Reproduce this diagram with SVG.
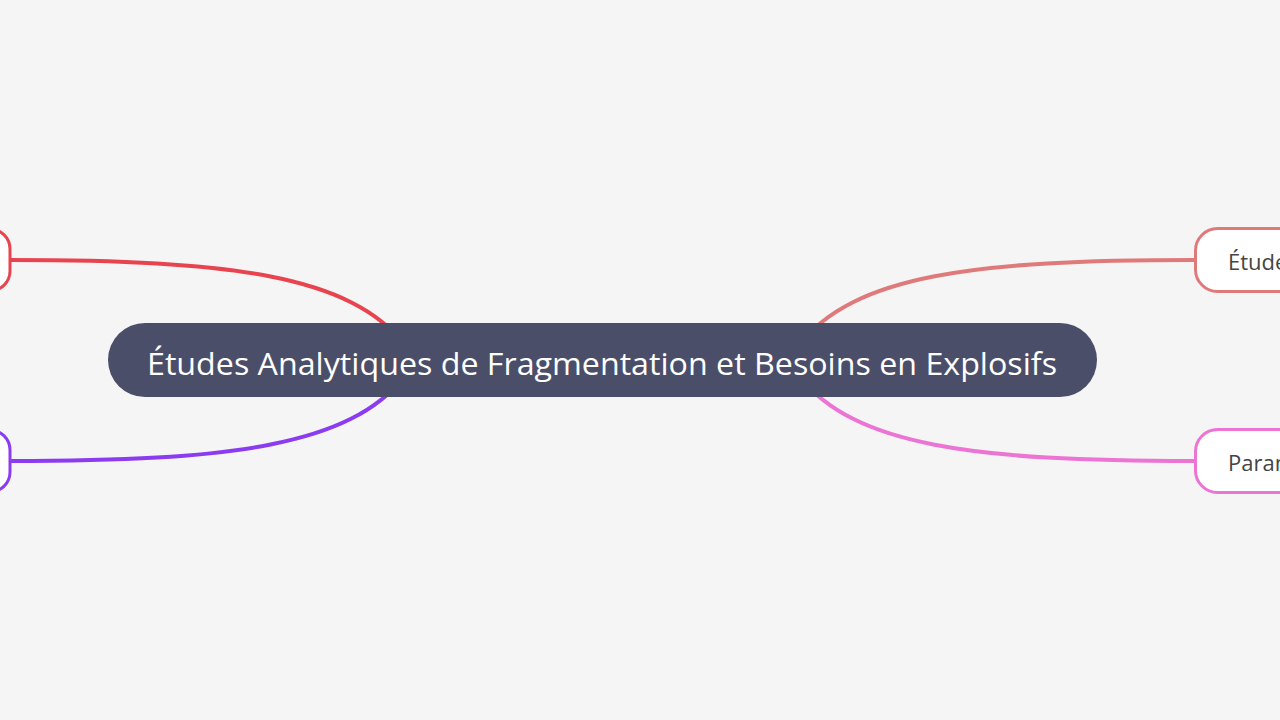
<svg xmlns="http://www.w3.org/2000/svg" width="1280" height="720" viewBox="0 0 1280 720">
  <style>
    .conn { fill: none; stroke-width: 4; stroke-linecap: round; }
    .leaf { fill: #ffffff; stroke-width: 3; }
    .leaftext { font-family: "Open Sans", "Noto Sans", "Liberation Sans", sans-serif; font-size: 22px; fill: #444444; }
    .roottext { font-family: "Open Sans", "Noto Sans", "Liberation Sans", sans-serif; font-size: 31px; fill: #ffffff; }
  </style>
  <rect x="0" y="0" width="1280" height="720" fill="#f5f5f5"/>
  <g id="connectors">
    <path class="conn" stroke="#e8444f" d="M 10 260 C 230 260, 350 275, 405 345"/>
    <path class="conn" stroke="#8b3cf0" d="M 10 461 C 230 461, 350 446, 405 376"/>
    <path class="conn" stroke="#e07a7a" d="M 1194 260 C 974 260, 854 275, 799 345"/>
    <path class="conn" stroke="#ec74d4" d="M 1194 461 C 974 461, 854 446, 799 376"/>
  </g>
  <g id="root">
    <rect x="108" y="323" width="989" height="74" rx="37" ry="37" fill="#4b4e69"/>
    <text class="roottext" x="602" y="375" text-anchor="middle" textLength="910" lengthAdjust="spacingAndGlyphs">Études Analytiques de Fragmentation et Besoins en Explosifs</text>
  </g>
  <g id="node-left-top">
    <rect class="leaf" stroke="#e8444f" x="-200" y="229" width="210" height="62" rx="20" ry="20"/>
  </g>
  <g id="node-left-bottom">
    <rect class="leaf" stroke="#8b3cf0" x="-200" y="430" width="210" height="62" rx="20" ry="20"/>
  </g>
  <g id="node-right-top">
    <rect class="leaf" stroke="#e07a7a" x="1195.5" y="228.5" width="220" height="63" rx="22" ry="22"/>
    <text class="leaftext" x="1228" y="270">Étude</text>
  </g>
  <g id="node-right-bottom">
    <rect class="leaf" stroke="#ec74d4" x="1195.5" y="429.5" width="220" height="63" rx="22" ry="22"/>
    <text class="leaftext" x="1228" y="471">Param</text>
  </g>
</svg>
